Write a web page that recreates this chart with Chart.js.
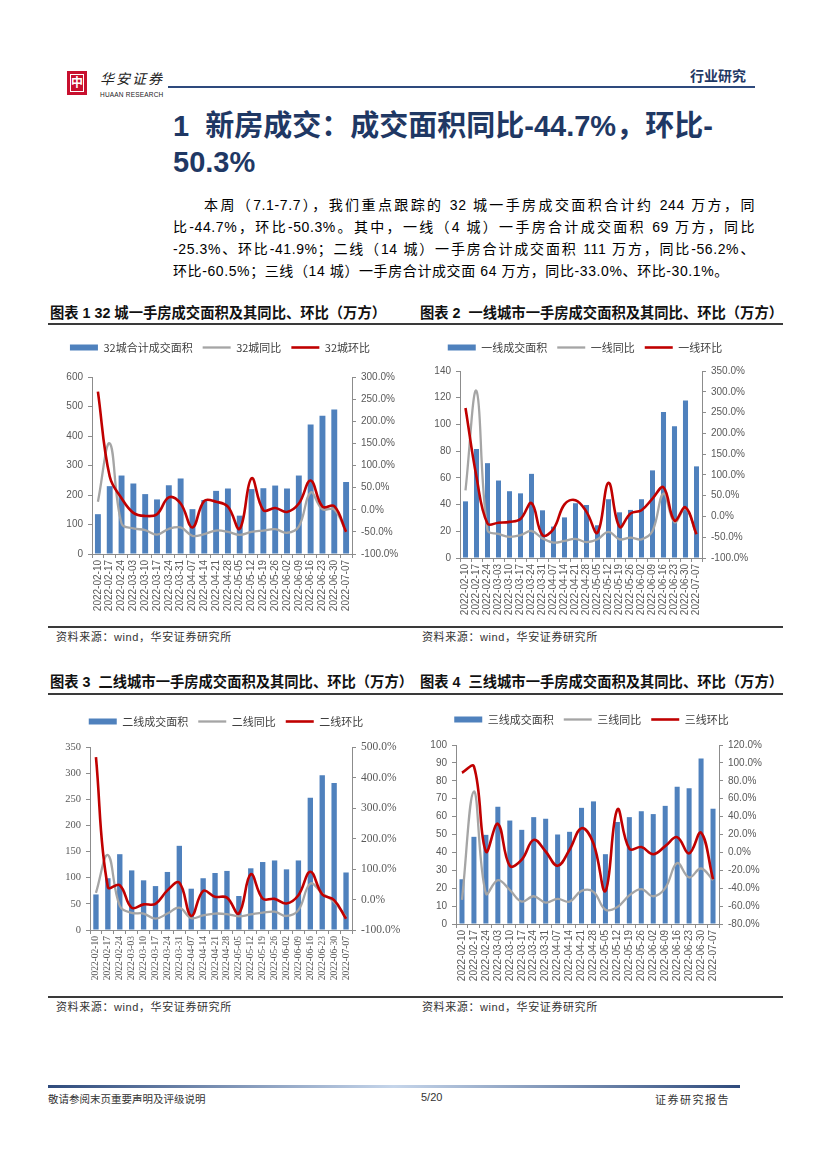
<!DOCTYPE html>
<html>
<head>
<meta charset="utf-8">
<script src="https://cdn.jsdelivr.net/npm/chart.js@4"></script>
<style>
  html, body { margin: 0; padding: 0; background: #fff; }
  body { width: 827px; height: 1169px; position: relative; overflow: hidden;
         font-family: "Liberation Sans", "Noto Sans CJK SC", sans-serif; color: #000; }
  .abs { position: absolute; white-space: nowrap; }
  .rule { position: absolute; height: 1.5px; background: #3a3a3a; }
  .ctitle { position: absolute; font-size: 14.3px; font-weight: 700; line-height: 18px; color: #111; white-space: nowrap; }
  .src { position: absolute; font-size: 11px; line-height: 14px; color: #333; white-space: nowrap; letter-spacing: 0.6px; }
  .para div { height: 22px; line-height: 22px; white-space: nowrap; }
  .just { text-align: justify; text-align-last: justify; }
  canvas { position: absolute; }
</style>
</head>
<body>

<!-- header -->
<div class="abs" style="left:67px;top:71px;width:20px;height:24px;background:#c8102e;"></div>
<div class="abs" style="left:70px;top:74px;width:12px;height:16px;border:1px solid #fff;color:#fff;font-size:12px;line-height:16px;text-align:center;font-weight:700;">中</div>
<div class="abs" style="left:100px;top:68px;font-size:14px;letter-spacing:2px;color:#222;font-style:italic;">华安证券</div>
<div class="abs" style="left:100px;top:91px;font-size:6.5px;color:#222;letter-spacing:0.2px;">HUAAN RESEARCH</div>
<div class="abs" style="left:168px;top:86px;width:587px;height:1.5px;background:#2e4a7d;"></div>
<div class="abs" style="left:690px;top:65px;font-size:14px;font-weight:700;color:#1f3864;">行业研究</div>

<div class="abs" style="left:173px;top:108px;font-size:29px;font-weight:700;line-height:36px;color:#1f3864;">1&nbsp;&nbsp;新房成交：成交面积同比-44.7%，环比-<br>50.3%</div>

<div class="abs para" style="left:173px;top:194px;width:582px;font-size:14px;letter-spacing:0.6px;">
  <div class="just" style="padding-left:31px;">本周（7.1-7.7），我们重点跟踪的 32 城一手房成交面积合计约 244 万方，同</div>
  <div class="just">比-44.7%，环比-50.3%。其中，一线（4 城）一手房合计成交面积 69 万方，同比</div>
  <div class="just">-25.3%、环比-41.9%；二线（14 城）一手房合计成交面积 111 万方，同比-56.2%、</div>
  <div>环比-60.5%；三线（14 城）一手房合计成交面 64 万方，同比-33.0%、环比-30.1%。</div>
</div>

<!-- chart titles row 1 -->
<div class="ctitle" style="left:50px;top:304px;">图表 1 32 城一手房成交面积及其同比、环比（万方）</div>
<div class="ctitle" style="left:420px;top:304px;">图表 2&nbsp;&nbsp;一线城市一手房成交面积及其同比、环比（万方）</div>
<div class="rule" style="left:48px;top:323px;width:735px;"></div>

<canvas id="c1" width="360" height="282" style="left:50px;top:332px;"></canvas>
<canvas id="c2" width="334" height="286" style="left:418px;top:332px;"></canvas>

<div class="rule" style="left:48px;top:626px;width:735px;"></div>
<div class="src" style="left:56px;top:630px;">资料来源：wind，华安证券研究所</div>
<div class="src" style="left:422px;top:630px;">资料来源：wind，华安证券研究所</div>

<!-- chart titles row 2 -->
<div class="ctitle" style="left:50px;top:673px;">图表 3&nbsp;&nbsp;二线城市一手房成交面积及其同比、环比（万方）</div>
<div class="ctitle" style="left:420px;top:673px;">图表 4&nbsp;&nbsp;三线城市一手房成交面积及其同比、环比（万方）</div>
<div class="rule" style="left:48px;top:693px;width:735px;"></div>

<canvas id="c3" width="356" height="284" style="left:48px;top:706px;"></canvas>
<canvas id="c4" width="355" height="280" style="left:414px;top:704px;"></canvas>

<div class="rule" style="left:48px;top:996px;width:735px;"></div>
<div class="src" style="left:56px;top:1000px;">资料来源：wind，华安证券研究所</div>
<div class="src" style="left:422px;top:1000px;">资料来源：wind，华安证券研究所</div>

<!-- footer -->
<div class="abs" style="left:48px;top:1085px;width:692px;height:3px;background:linear-gradient(to right,#2f4b7c,#c5d5ea 50%,#2f4b7c);"></div>
<div class="abs" style="left:48px;top:1091px;font-size:10.5px;color:#333;">敬请参阅末页重要声明及评级说明</div>
<div class="abs" style="left:421px;top:1091px;font-size:11px;color:#333;">5/20</div>
<div class="abs" style="left:655px;top:1091px;font-size:11px;color:#333;letter-spacing:1.5px;">证券研究报告</div>

<script>
const dates = ['2022-02-10', '2022-02-17', '2022-02-24', '2022-03-03', '2022-03-10', '2022-03-17',
  '2022-03-24', '2022-03-31', '2022-04-07', '2022-04-14', '2022-04-21', '2022-04-28',
  '2022-05-05', '2022-05-12', '2022-05-19', '2022-05-26', '2022-06-02', '2022-06-09',
  '2022-06-16', '2022-06-23', '2022-06-30', '2022-07-07'];

// 32 cities
const area32 = [135, 230, 266, 239, 203, 185, 233, 256, 152, 183, 214, 222, 130, 220, 223, 232, 222, 266, 439, 469, 490, 244];
const yoy32 = [18, 150, -31, -42, -46, -56, -43, -40, -59, -55, -47, -50, -57, -50, -47, -44, -52, -38, 39, 1, 1, -50];
const mom32 = [267, 75, 26, -7, -14, -10, 28, 14, -40, 20, 18, 7, -43, 71, -1, 4, -5, 14, 66, 7, 8, -50];

// tier 1
const areaT1 = [42.4, 81.6, 71, 58, 50, 48.4, 63, 35.7, 23.5, 30.4, 41, 39.7, 24.5, 44, 34.2, 36, 44, 65.6, 109.3, 98.6, 118, 68.6];
const yoyT1 = [63, 302, -33, -42, -49, -45, -35, -53, -63, -59, -54, -62, -55, -37, -55, -51, -55, -35, 55, -14, 19, -43];
const momT1 = [261, 95, -17, -15, -13, -6, 32, -45, -30, 29, 39, 11, -39, 81, -25, 7, 15, 43, 70, -10, 22, -43];

// tier 2
const areaT2 = [68, 99, 145, 114, 95, 84, 111, 161, 79, 99, 109, 113, 65, 118, 130, 133, 116, 133, 253, 296, 281, 110];
const yoyT2 = [22, 146, -21, -44, -46, -63, -46, -27, -61, -52, -46, -48, -55, -49, -43, -40, -54, -35, 52, 20, -8, -57];
const momT2 = [467, 41, 47, -27, -16, -14, 30, 55, -54, 28, 9, 6, -46, 83, 3, 2, -13, 14, 91, 17, -2, -63];

// tier 3
const areaT3 = [25, 48.7, 49.8, 65.5, 57.8, 52.6, 59.7, 58.8, 50, 51.5, 64.9, 68.5, 39, 57, 59.7, 63, 61.4, 66, 76.7, 75.9, 92.4, 64.4];
const yoyT3 = [-53, 68, -46, -31, -42, -55, -49, -56, -52, -55, -43, -44, -64, -61, -48, -41, -49, -40, -12, -28, -18, -31];
const momT3 = [89, 96, 1, 32, -15, -8, 14, 1, -15, 3, 27, 10, -43, 48, 4, 6, -2, 7, 17, -1, 22, -30];

const AXIS = '#8c8c8c';

// pushes the plot area down below the legend and lets the legend slide sideways
function legendSpacer(gap, dx) {
  return {
    id: 'legendSpacer',
    beforeInit(chart) {
      const fit = chart.legend.fit;
      chart.legend.fit = function () { fit.call(this); this.height += gap; };
    },
    afterLayout(chart) {
      chart.legend.left += dx;
      chart.legend.right += dx;
    }
  };
}

function makeChart(id, c) {
  const tick = { family: c.font, size: c.tickSize };
  const xTick = { family: c.font, size: c.xSize };
  return new Chart(document.getElementById(id), {
    type: 'bar',
    data: {
      labels: dates,
      datasets: [
        { type: 'bar', label: c.names[0], data: c.area, backgroundColor: '#4f81bd', borderWidth: 0,
          barPercentage: c.barPct, categoryPercentage: 1, yAxisID: 'y', order: 3 },
        { type: 'line', label: c.names[1], data: c.yoy, borderColor: '#a5a5a5', backgroundColor: '#a5a5a5',
          borderWidth: 2.3, pointRadius: 0, tension: 0.4, yAxisID: 'y1', order: 2 },
        { type: 'line', label: c.names[2], data: c.mom, borderColor: '#c00000', backgroundColor: '#c00000',
          borderWidth: 2.6, pointRadius: 0, tension: 0.4, yAxisID: 'y1', order: 1 }
      ]
    },
    options: {
      responsive: false,
      animation: false,
      layout: { padding: 0 },
      plugins: {
        tooltip: { enabled: false },
        legend: {
          position: 'top',
          labels: {
            font: { family: 'Noto Sans CJK SC', size: 11 },
            color: '#404040',
            usePointStyle: true,
            pointStyleWidth: 28,
            boxHeight: 6,
            padding: 10,
            generateLabels: chart => {
              const items = Chart.defaults.plugins.legend.labels.generateLabels(chart);
              items.forEach(it => {
                it.pointStyle = chart.data.datasets[it.datasetIndex].type === 'line' ? 'line' : 'rect';
              });
              return items.sort((a, b) => a.datasetIndex - b.datasetIndex);
            }
          }
        }
      },
      scales: {
        x: {
          grid: { display: true, drawOnChartArea: false, tickLength: 4, color: AXIS },
          border: { color: AXIS },
          ticks: { font: xTick, color: '#595959', maxRotation: 90, minRotation: 90, autoSkip: false, padding: 2 },
          afterFit: s => { s.height = c.xH; }
        },
        y: {
          position: 'left', min: 0, max: c.lMax,
          grid: { drawOnChartArea: false, tickLength: 4, color: AXIS },
          border: { color: AXIS },
          ticks: { stepSize: c.lStep, font: tick, color: '#595959', padding: 5 },
          afterFit: s => { s.width = 42; }
        },
        y1: {
          position: 'right', min: c.rMin, max: c.rMax,
          grid: { drawOnChartArea: false, tickLength: 4, color: AXIS },
          border: { color: AXIS },
          ticks: { stepSize: c.rStep, font: c.rFont || tick, color: '#595959', padding: 5,
                   callback: v => v.toFixed(1) + '%' },
          afterFit: s => { s.width = c.rW; }
        }
      }
    },
    plugins: [legendSpacer(c.gap, c.dx)]
  });
}

const SANS = 'Liberation Sans';

makeChart('c1', {
  names: ['32城合计成交面积', '32城同比', '32城环比'],
  area: area32, yoy: yoy32, mom: mom32,
  lMax: 600, lStep: 100, rMin: -100, rMax: 300, rStep: 50,
  font: SANS, tickSize: 10, xSize: 10, xH: 60, rW: 58, gap: 14, dx: -10, barPct: 0.5
});

makeChart('c2', {
  names: ['一线成交面积', '一线同比', '一线环比'],
  area: areaT1, yoy: yoyT1, mom: momT1,
  lMax: 140, lStep: 20, rMin: -100, rMax: 350, rStep: 50,
  font: SANS, tickSize: 10, xSize: 10, xH: 60, rW: 50, gap: 8, dx: 0, barPct: 0.46
});

makeChart('c3', {
  names: ['二线成交面积', '二线同比', '二线环比'],
  area: areaT2, yoy: yoyT2, mom: momT2,
  lMax: 350, lStep: 50, rMin: -100, rMax: 500, rStep: 100,
  font: 'Liberation Serif', tickSize: 10.5, xSize: 9.5, rFont: { family: 'Liberation Serif', size: 11.5 },
  xH: 60, rW: 52, gap: 10, dx: 0, barPct: 0.45
});

makeChart('c4', {
  names: ['三线成交面积', '三线同比', '三线环比'],
  area: areaT3, yoy: yoyT3, mom: momT3,
  lMax: 100, lStep: 10, rMin: -80, rMax: 120, rStep: 20,
  font: SANS, tickSize: 10, xSize: 10, xH: 60, rW: 50, gap: 10, dx: 0, barPct: 0.42
});
</script>
</body>
</html>
